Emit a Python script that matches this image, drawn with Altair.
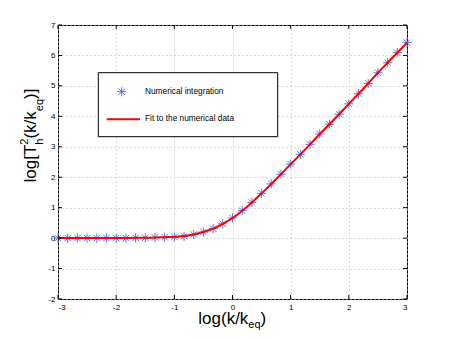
import altair as alt
import pandas as pd

# ---- data ----
x_vals = [-3.0, -2.833, -2.667, -2.5, -2.333, -2.167, -2.0, -1.833, -1.667, -1.5,
          -1.333, -1.167, -1.0, -0.833, -0.667, -0.5, -0.333, -0.167, 0.0, 0.167,
          0.333, 0.5, 0.667, 0.833, 1.0, 1.167, 1.333, 1.5, 1.667, 1.833,
          2.0, 2.167, 2.333, 2.5, 2.667, 2.833, 3.0]
y_numerical = [0.0, 0.0, 0.0, 0.0, 0.0, 0.0, 0.0, 0.0, 0.01, 0.01,
               0.02, 0.03, 0.04, 0.06, 0.12, 0.20, 0.31, 0.47, 0.66, 0.90,
               1.17, 1.47, 1.78, 2.10, 2.43, 2.75, 3.08, 3.42, 3.74, 4.07,
               4.41, 4.74, 5.08, 5.43, 5.76, 6.09, 6.42]
y_fit = [0.0, 0.0, 0.0, 0.0, 0.0, 0.0, 0.0, 0.0, 0.01, 0.01,
         0.02, 0.03, 0.04, 0.07, 0.12, 0.20, 0.31, 0.47, 0.66, 0.90,
         1.17, 1.47, 1.78, 2.10, 2.43, 2.75, 3.08, 3.42, 3.74, 4.07,
         4.41, 4.74, 5.08, 5.43, 5.76, 6.09, 6.42]
x_ticks = [-3, -2, -1, 0, 1, 2, 3]
y_ticks = [-2, -1, 0, 1, 2, 3, 4, 5, 6, 7]
legend_labels = ["Numerical integration", "Fit to the numerical data"]

W, H = 349, 274
FONT = "Liberation Sans"
STAR = "M-1,0L1,0M0,-1L0,1M-0.7,-0.7L0.7,0.7M-0.7,0.7L0.7,-0.7"
BLUE = "#4a66ff"

df = pd.DataFrame({"x": x_vals, "y": y_numerical, "yf": y_fit})
xt = pd.DataFrame({"v": x_ticks})
yt = pd.DataFrame({"v": y_ticks})

xscale = alt.Scale(domain=[-3, 3], nice=False, zero=False)
yscale = alt.Scale(domain=[-2, 7], nice=False, zero=False)
lab = "datum.value < 0 ? '-' + toString(abs(datum.value)) : toString(datum.value)"
xaxis = alt.Axis(values=x_ticks, labelExpr=lab, title=None)
yaxis = alt.Axis(values=y_ticks, labelExpr=lab, title=None)


def X(f):
    return alt.X(f, type="quantitative", scale=xscale, axis=xaxis)


def Y(f):
    return alt.Y(f, type="quantitative", scale=yscale, axis=yaxis)


stars = alt.Chart(df).mark_point(
    shape=STAR, filled=False, size=85, strokeWidth=0.9, color=BLUE, opacity=1
).encode(x=X("x"), y=Y("y"))

fit = alt.Chart(df).mark_line(color="#ff0000", strokeWidth=2, interpolate="monotone").encode(
    x=X("x"), y=Y("yf"))

tb = alt.Chart(xt).mark_rule(color="black", strokeWidth=1).encode(
    x=X("v"), y=alt.value(H), y2=alt.value(H - 4))
tt = alt.Chart(xt).mark_rule(color="black", strokeWidth=1).encode(
    x=X("v"), y=alt.value(0), y2=alt.value(4))
tl = alt.Chart(yt).mark_rule(color="black", strokeWidth=1).encode(
    y=Y("v"), x=alt.value(0), x2=alt.value(4))
tr = alt.Chart(yt).mark_rule(color="black", strokeWidth=1).encode(
    y=Y("v"), x=alt.value(W), x2=alt.value(W - 4))

one = pd.DataFrame({"a": [0]})

# legend box
lbox = alt.Chart(one).mark_rect(fill="white", stroke="black", strokeWidth=1).encode(
    x=alt.value(40.3), x2=alt.value(219.7), y=alt.value(47.7), y2=alt.value(111.7))
lstar = alt.Chart(one).mark_point(
    shape=STAR, filled=False, size=85, strokeWidth=0.9, color=BLUE, opacity=1
).encode(x=alt.value(63.7), y=alt.value(66.7))
lline = alt.Chart(one).mark_rule(color="#ff0000", strokeWidth=2).encode(
    x=alt.value(48.7), x2=alt.value(82), y=alt.value(94.3))
ltext = alt.Chart(pd.DataFrame({"t": legend_labels, "yy": [66.7, 94.3]})).mark_text(
    font=FONT, fontSize=8.3, align="left", baseline="middle", color="black"
).encode(x=alt.value(87), y=alt.Y("yy:Q", scale=None), text="t:N")


def txt(s, x, y, size, angle=0):
    return alt.Chart(one).mark_text(
        text=s, font=FONT, fontSize=size, align="left", baseline="alphabetic",
        color="black", angle=angle
    ).encode(x=alt.value(x), y=alt.value(y))


# x title: log(k/k_eq)
xt1 = txt("log(k/k", 140.3, 298.5, 17)
xt2 = txt("eq", 190.3, 303.0, 11)
xt3 = txt(")", 202.5, 298.5, 17)

# y title: log[T_h^2(k/k_eq)]
yt1 = txt("log[T", -22, 157.5, 17, 270)
yt2 = txt("2", -30, 119.7, 11, 270)
yt3 = txt("h", -15, 119.7, 11, 270)
yt4 = txt("(k/k", -22, 113.6, 17, 270)
yt5 = txt("eq", -15, 86.2, 11, 270)
yt6 = txt(")]", -22, 74.0, 17, 270)

chart = alt.layer(
    stars, fit, tb, tt, tl, tr, lbox, lstar, lline, ltext,
    xt1, xt2, xt3, yt1, yt2, yt3, yt4, yt5, yt6
).properties(
    width=W, height=H,
    autosize=alt.AutoSizeParams(type="none"),
    padding={"left": 50, "top": 17, "right": 34, "bottom": 31},
).configure_view(
    stroke="black", strokeWidth=1
).configure_axis(
    grid=True, gridColor="#b8b8b8", gridDash=[1, 3], gridWidth=1,
    ticks=False, domain=False, labelFont=FONT, labelFontSize=8,
    labelColor="black"
).configure_axisX(labelPadding=4).configure_axisY(labelPadding=3)

chart.save("out.html", embed_options={"renderer": "svg", "actions": False})
